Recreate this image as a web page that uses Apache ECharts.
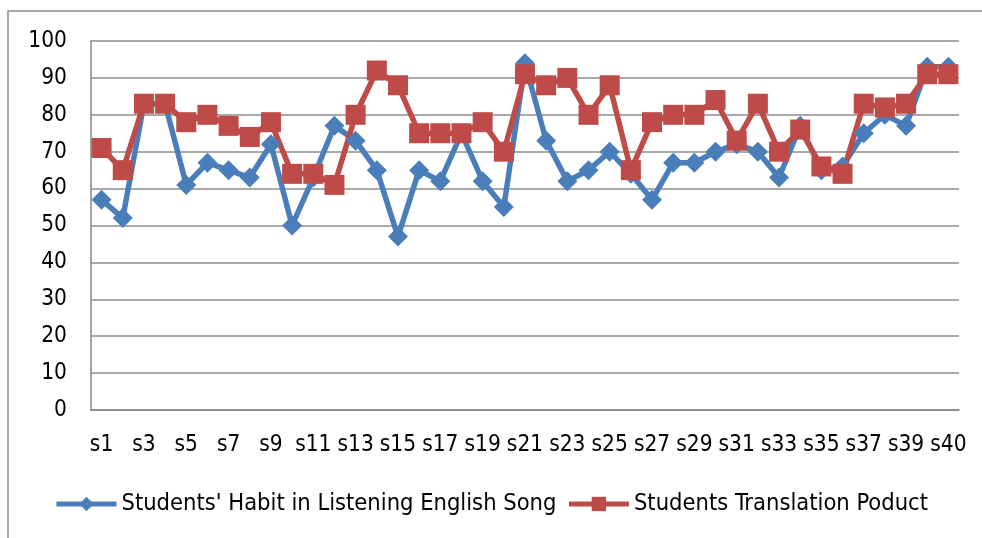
<!DOCTYPE html>
<html><head><meta charset="utf-8">
<script src="https://cdn.jsdelivr.net/npm/echarts@6/dist/echarts.min.js"></script>
<style>html,body{margin:0;padding:0;background:#fff}#c{width:982px;height:538px}</style>
</head><body><div id="c"></div>
<script>
const categories = ['s1','s2','s3','s4','s5','s6','s7','s8','s9','s10','s11','s12','s13','s14','s15','s16','s17','s18','s19','s20','s21','s22','s23','s24','s25','s26','s27','s28','s29','s30','s31','s32','s33','s34','s35','s36','s37','s38','s39','s40','s40'];
const habit = [57,52,83,83,61,67,65,63,72,50,63,77,73,65,47,65,62,75,62,55,94,73,62,65,70,64,57,67,67,70,72,70,63,77,65,66,75,80,77,93,93];
const translation = [71,65,83,83,78,80,77,74,78,64,64,61,80,92,88,75,75,75,78,70,91,88,90,80,88,65,78,80,80,84,73,83,70,76,66,64,83,82,83,91,91];
const yTicks = [0,10,20,30,40,50,60,70,80,90,100];
const seriesNames = ["Students' Habit in Listening English Song", 'Students Translation Poduct'];

const FONT = '"DejaVu Sans Condensed", "Liberation Sans", sans-serif';
const chart = echarts.init(document.getElementById('c'));
chart.setOption({
  animation: false,
  backgroundColor: '#fff',
  graphic: [{
    type: 'rect', shape: {x: 8, y: 11, width: 1100, height: 700},
    style: {fill: 'none', stroke: '#8c8c8c', lineWidth: 1.5}, silent: true
  }],
  grid: {left: 91, right: 23, top: 41, bottom: 128},
  legend: {
    bottom: 17, left: 'center',
    itemWidth: 60, itemHeight: 18, itemGap: 10,
    lineStyle: {width: 5},
    textStyle: {fontFamily: FONT, fontSize: 23.5, color: '#000'},
    data: seriesNames
  },
  xAxis: {
    type: 'category', data: categories, boundaryGap: true,
    axisLine: {lineStyle: {color: '#868686', width: 1.5}},
    axisTick: {show: false},
    axisLabel: {interval: 1, margin: 24, fontFamily: FONT, fontSize: 22.5, color: '#000'}
  },
  yAxis: {
    type: 'value', min: yTicks[0], max: yTicks[yTicks.length-1], interval: yTicks[1]-yTicks[0],
    axisLine: {show: true, lineStyle: {color: '#868686', width: 1.5}},
    axisTick: {show: false},
    splitLine: {lineStyle: {color: '#8c8c8c', width: 1.5}},
    axisLabel: {margin: 24, fontFamily: FONT, fontSize: 22.5, color: '#000'}
  },
  series: [{
    name: seriesNames[0], type: 'line', data: habit,
    symbol: 'diamond', symbolSize: 20, showAllSymbol: true,
    lineStyle: {color: '#4A7EBB', width: 5.5},
    itemStyle: {color: '#4A7EBB'}
  }, {
    name: seriesNames[1], type: 'line', data: translation,
    symbol: 'rect', symbolSize: 20, showAllSymbol: true,
    lineStyle: {color: '#BE4B48', width: 5.5},
    itemStyle: {color: '#BE4B48'}
  }]
});
</script></body></html>
